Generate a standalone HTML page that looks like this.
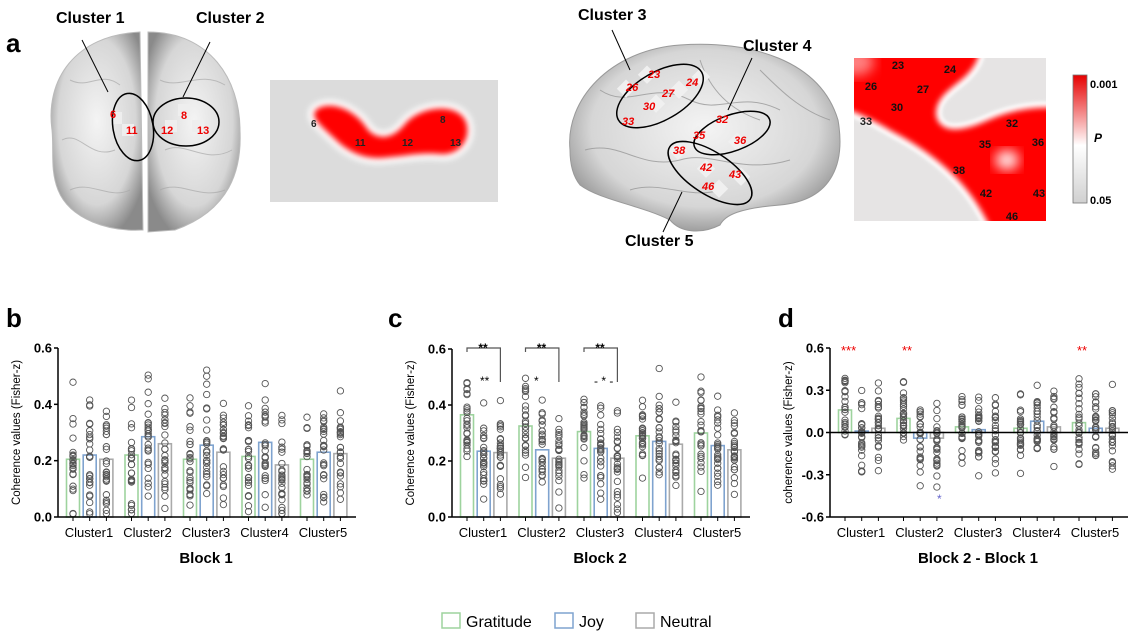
<!DOCTYPE html>
<html><head><meta charset="utf-8"><style>
body{margin:0;background:#fff;}
svg{display:block;font-family:"Liberation Sans",Arial,sans-serif;}
</style></head><body>
<svg id="s" width="1138" height="634" viewBox="0 0 1138 634" xmlns="http://www.w3.org/2000/svg">
<defs>
<filter id="bl" x="-20%" y="-20%" width="140%" height="140%"><feGaussianBlur stdDeviation="6"/></filter>
<filter id="bl2" x="-20%" y="-20%" width="140%" height="140%"><feGaussianBlur stdDeviation="3"/></filter>
<filter id="bl3" x="-20%" y="-20%" width="140%" height="140%"><feGaussianBlur stdDeviation="1.5"/></filter>
<radialGradient id="brain" cx="50%" cy="45%" r="60%"><stop offset="0" stop-color="#f4f4f4"/><stop offset="0.7" stop-color="#d6d6d6"/><stop offset="1" stop-color="#8a8a8a"/></radialGradient>
<linearGradient id="cb" x1="0" y1="0" x2="0" y2="1"><stop offset="0" stop-color="#e60000"/><stop offset="0.55" stop-color="#fff"/><stop offset="1" stop-color="#d0d0d0"/></linearGradient>
<clipPath id="h1"><rect x="270" y="80" width="228" height="122"/></clipPath>
<clipPath id="h2"><rect x="854" y="58" width="192" height="163"/></clipPath>
</defs>
<text x="6" y="52" font-size="26" font-weight="bold">a</text>
<path d="M52,130 C45,80 75,35 140,32 L143,230 C110,232 70,220 58,190 C50,170 54,150 52,130Z" fill="url(#brain)" stroke="#bbb"/>
<path d="M148,32 C210,32 240,80 240,130 C242,170 230,210 175,230 L148,232Z" fill="url(#brain)" stroke="#bbb"/>
<g stroke="#aaa" fill="none" opacity="0.7">
<path d="M70,80 C90,90 100,70 120,85"/><path d="M62,140 C80,130 90,160 115,150"/><path d="M70,190 C90,180 110,200 130,190"/>
<path d="M160,80 C180,90 200,70 225,85"/><path d="M165,150 C185,140 205,165 232,150"/><path d="M160,190 C180,180 200,200 225,190"/>
</g>
<rect x="110" y="112" width="12" height="12" fill="#eee"/><rect x="122" y="124" width="12" height="12" fill="#eee"/>
<rect x="178" y="104" width="12" height="12" fill="#eee"/><rect x="165" y="120" width="12" height="12" fill="#eee"/><rect x="192" y="120" width="12" height="12" fill="#eee"/>
<ellipse cx="133" cy="127" rx="34" ry="20" transform="rotate(80 133 127)" fill="none" stroke="#000" stroke-width="1.5"/>
<ellipse cx="186" cy="122" rx="33" ry="24" fill="none" stroke="#000" stroke-width="1.5"/>
<line x1="82" y1="40" x2="108" y2="92" stroke="#000"/><line x1="210" y1="42" x2="183" y2="97" stroke="#000"/>
<text x="56" y="23" font-size="16" font-weight="bold">Cluster 1</text>
<text x="196" y="23" font-size="16" font-weight="bold">Cluster 2</text>
<g fill="#e00" font-size="11" font-weight="bold"><text x="110" y="118">6</text><text x="126" y="134">11</text><text x="181" y="119">8</text><text x="161" y="134">12</text><text x="197" y="134">13</text></g>
<rect x="270" y="80" width="228" height="122" fill="#dcdcdc"/>
<g clip-path="url(#h1)">
<path d="M316,110 C328,100 355,108 368,130 C378,140 392,140 405,124 C420,106 458,102 466,122 C472,140 458,156 440,154 C420,152 405,156 390,157 C370,160 352,156 334,138 C320,125 310,117 316,110Z" fill="#fff" stroke="#fff" stroke-width="12" filter="url(#bl2)"/>
<path d="M316,110 C328,100 355,108 368,130 C378,140 392,140 405,124 C420,106 458,102 466,122 C472,140 458,156 440,154 C420,152 405,156 390,157 C370,160 352,156 334,138 C320,125 310,117 316,110Z" fill="#f00" filter="url(#bl2)"/>
</g>
<g font-size="10" font-weight="bold" fill="#222"><text x="311" y="127">6</text><text x="355" y="146">11</text><text x="402" y="146">12</text><text x="440" y="123">8</text><text x="450" y="146">13</text></g>
<path d="M570,150 C565,100 610,50 680,45 C750,40 820,60 838,120 C845,160 835,200 780,205 C740,208 725,215 720,225 C700,235 680,232 670,220 C640,205 600,200 580,185 C572,175 570,162 570,150Z" fill="url(#brain)" stroke="#999"/>
<g stroke="#999" fill="none" opacity="0.8">
<path d="M600,90 C630,110 650,80 690,100 C720,115 740,90 780,110"/><path d="M585,150 C620,140 640,170 680,160 C710,150 740,175 790,160"/>
<path d="M630,190 C660,180 690,200 720,190"/><path d="M700,60 C710,90 730,110 760,120"/><path d="M760,70 C780,90 800,110 830,120"/>
</g>
<g fill="#f0f0f0"><rect x="641" y="68" width="13" height="13" transform="rotate(45 647 74)"/><rect x="673" y="83" width="13" height="13" transform="rotate(45 679 89)"/><rect x="650" y="97" width="13" height="13" transform="rotate(45 656 103)"/><rect x="695" y="70" width="13" height="13" transform="rotate(45 701 76)"/><rect x="620" y="82" width="13" height="13" transform="rotate(45 626 88)"/><rect x="713" y="117" width="13" height="13" transform="rotate(45 719 123)"/><rect x="692" y="128" width="13" height="13" transform="rotate(45 698 134)"/><rect x="731" y="135" width="13" height="13" transform="rotate(45 737 141)"/><rect x="672" y="144" width="13" height="13" transform="rotate(45 678 150)"/><rect x="700" y="162" width="13" height="13" transform="rotate(45 706 168)"/><rect x="735" y="170" width="13" height="13" transform="rotate(45 741 176)"/><rect x="713" y="182" width="13" height="13" transform="rotate(45 719 188)"/></g>
<ellipse cx="660" cy="96" rx="48" ry="24" transform="rotate(-30 660 96)" fill="none" stroke="#000" stroke-width="1.5"/>
<ellipse cx="732" cy="133" rx="40" ry="18" transform="rotate(-20 732 133)" fill="none" stroke="#000" stroke-width="1.5"/>
<ellipse cx="710" cy="173" rx="48" ry="21" transform="rotate(33 710 173)" fill="none" stroke="#000" stroke-width="1.5"/>
<line x1="612" y1="30" x2="630" y2="70" stroke="#000"/><line x1="752" y1="58" x2="728" y2="110" stroke="#000"/><line x1="663" y1="232" x2="682" y2="192" stroke="#000"/>
<text x="578" y="20" font-size="16" font-weight="bold">Cluster 3</text>
<text x="743" y="51" font-size="16" font-weight="bold">Cluster 4</text>
<text x="625" y="246" font-size="16" font-weight="bold">Cluster 5</text>
<g fill="#e00" font-size="11" font-weight="bold" font-style="italic"><text x="648" y="78">23</text><text x="686" y="86">24</text><text x="626" y="91">26</text><text x="662" y="97">27</text><text x="643" y="110">30</text><text x="622" y="125">33</text><text x="716" y="123">32</text><text x="693" y="139">35</text><text x="734" y="144">36</text><text x="673" y="154">38</text><text x="700" y="171">42</text><text x="729" y="178">43</text><text x="702" y="190">46</text></g>
<g clip-path="url(#h2)">
<rect x="854" y="58" width="192" height="163" fill="#f00"/>
<ellipse cx="856" cy="62" rx="18" ry="14" fill="#fff" filter="url(#bl)" opacity="0.5"/>
<ellipse cx="1007" cy="160" rx="12" ry="10" fill="#fff" filter="url(#bl)" opacity="0.9"/>
<path d="M985,50 L1060,50 L1060,102 C1030,100 1005,106 985,115 C965,124 945,128 942,115 C940,100 960,90 970,80 C980,70 985,60 985,50Z" fill="#fff" stroke="#fff" stroke-width="12" filter="url(#bl2)"/>
<path d="M985,50 L1060,50 L1060,102 C1030,100 1005,106 985,115 C965,124 945,128 942,115 C940,100 960,90 970,80 C980,70 985,60 985,50Z" fill="#e6e4e4" filter="url(#bl3)"/>
<path d="M845,115 C860,120 875,128 890,137 C915,150 935,165 950,180 C965,195 975,210 985,230 L845,230Z" fill="#fff" stroke="#fff" stroke-width="12" filter="url(#bl2)"/>
<path d="M845,115 C860,120 875,128 890,137 C915,150 935,165 950,180 C965,195 975,210 985,230 L845,230Z" fill="#e6e4e4" filter="url(#bl3)"/>
</g>
<g font-size="11" font-weight="bold" fill="#111" text-anchor="middle"><text x="898" y="69">23</text><text x="950" y="73">24</text><text x="871" y="90">26</text><text x="923" y="93">27</text><text x="897" y="111">30</text><text x="866" y="125" fill="#222">33</text><text x="1012" y="127">32</text><text x="985" y="148">35</text><text x="1038" y="146">36</text><text x="959" y="174">38</text><text x="986" y="197">42</text><text x="1039" y="197">43</text><text x="1012" y="220">46</text></g>
<rect x="1073" y="75" width="14" height="128" fill="url(#cb)" stroke="#777" stroke-width="0.8"/>
<text x="1090" y="88" font-size="11" font-weight="bold">0.001</text>
<text x="1094" y="142" font-size="12" font-weight="bold" font-style="italic">P</text>
<text x="1090" y="204" font-size="11" font-weight="bold">0.05</text>
<text x="6" y="327" font-size="26" font-weight="bold">b</text>
<text x="388" y="327" font-size="26" font-weight="bold">c</text>
<text x="778" y="327" font-size="26" font-weight="bold">d</text>
<g id="plots"></g>
<rect x="442" y="613" width="18" height="15" fill="none" stroke="#9ed39e" stroke-width="1.5"/><text x="466" y="627" font-size="16">Gratitude</text>
<rect x="555" y="613" width="18" height="15" fill="none" stroke="#7fa3cf" stroke-width="1.5"/><text x="579" y="627" font-size="16">Joy</text>
<rect x="636" y="613" width="18" height="15" fill="none" stroke="#aaa" stroke-width="1.5"/><text x="660" y="627" font-size="16">Neutral</text>
</svg>
<script>
var seed=7;function rnd(){seed=(seed*9301+49297)%233280;return seed/233280;}
function nrm(){return (rnd()+rnd()+rnd()+rnd()-2)*1.8;}
var g=document.getElementById("plots"),out="";
var cols=["#9ed39e","#7fa3cf","#aaa"];
function panel(ax,ymin,ymax,yTop,yBot,ticks,means,spread,title,ylab,zero){
 var sy=function(v){return yBot-(v-ymin)/(ymax-ymin)*(yBot-yTop);};
 var base=zero?sy(0):yBot;
 for(var c=0;c<5;c++){for(var b=0;b<3;b++){
  var x=ax+15+c*58.5+b*16.7,m=means[c][b];
  var y=sy(m);out+='<rect x="'+(x-6.5)+'" y="'+Math.min(y,base)+'" width="13" height="'+Math.abs(base-y)+'" fill="none" stroke="'+cols[b]+'" stroke-width="1.6"/>';
  for(var i=0;i<26;i++){var v=m+nrm()*spread;if(v<ymin+0.01)v=ymin+0.01+rnd()*0.05;if(v>ymax-0.02)v=ymax-0.05;out+='<circle cx="'+x+'" cy="'+sy(v).toFixed(1)+'" r="3.2" fill="none" stroke="#555" stroke-width="0.9"/>';}
  out+='<line x1="'+x+'" y1="'+yBot+'" x2="'+x+'" y2="'+(yBot+4)+'" stroke="#000"/>';
 }
 out+='<text x="'+(ax+31+c*58.5)+'" y="'+(yBot+20)+'" font-size="13" text-anchor="middle">Cluster'+(c+1)+'</text>';}
 out+='<line x1="'+ax+'" y1="'+yTop+'" x2="'+ax+'" y2="'+yBot+'" stroke="#000" stroke-width="1.5"/>';
 out+='<line x1="'+ax+'" y1="'+(zero?sy(0):yBot)+'" x2="'+(ax+298)+'" y2="'+(zero?sy(0):yBot)+'" stroke="#000" stroke-width="1.5"/>';
 if(zero)out+='<line x1="'+ax+'" y1="'+yBot+'" x2="'+(ax+298)+'" y2="'+yBot+'" stroke="#000" stroke-width="1.5"/>';
 ticks.forEach(function(t){var y=sy(t);out+='<line x1="'+(ax-4)+'" y1="'+y+'" x2="'+ax+'" y2="'+y+'" stroke="#000" stroke-width="1.5"/><text x="'+(ax-6)+'" y="'+(y+4.5)+'" font-size="13" font-weight="bold" text-anchor="end">'+t.toFixed(1)+'</text>';});
 out+='<text transform="translate('+(ax-38)+','+((yTop+yBot)/2)+') rotate(-90)" font-size="11.5" text-anchor="middle">'+ylab+'</text>';
 out+='<text x="'+(ax+148)+'" y="'+(yBot+46)+'" font-size="15" font-weight="bold" text-anchor="middle">'+title+'</text>';
}
panel(58,0,0.6,348,517,[0,0.2,0.4,0.6],[[.205,.22,.205],[.22,.285,.26],[.205,.255,.23],[.215,.265,.185],[.205,.23,.225]],0.1,"Block 1","Coherence values (Fisher-z)",false);
panel(452,0,0.6,349,517,[0,0.2,0.4,0.6],[[.365,.235,.23],[.325,.24,.21],[.305,.245,.21],[.29,.27,.26],[.3,.255,.24]],0.08,"Block 2","Coherence values (Fisher-z)",false);
panel(830,-0.6,0.6,348,517,[-0.6,-0.3,0,0.3,0.6],[[.16,.01,.03],[.10,-.04,-.04],[.04,.02,0],[.03,.08,.04],[.07,.03,.03]],0.13,"Block 2 - Block 1","coherence values (Fisher-z)",true);
[0,1,2].forEach(function(c){var x1=452+15+c*58.5,x3=x1+33.4;out+='<path d="M'+x1+',352 V348 H'+x3+' V382" fill="none" stroke="#555" stroke-width="1.2"/><text x="'+(x1+16)+'" y="352" font-size="12" font-weight="bold" text-anchor="middle">**</text>';});
out+='<text x="480" y="385" font-size="12">**</text><text x="534" y="385" font-size="12">*</text><text x="594" y="385" font-size="12">- * -</text>';
out+='<text x="841" y="355" font-size="13" fill="#e00">***</text><text x="902" y="355" font-size="13" fill="#e00">**</text><text x="1077" y="355" font-size="13" fill="#e00">**</text><text x="937" y="503" font-size="12" fill="#66c">*</text>';
g.innerHTML=out;
</script>
</body></html>
